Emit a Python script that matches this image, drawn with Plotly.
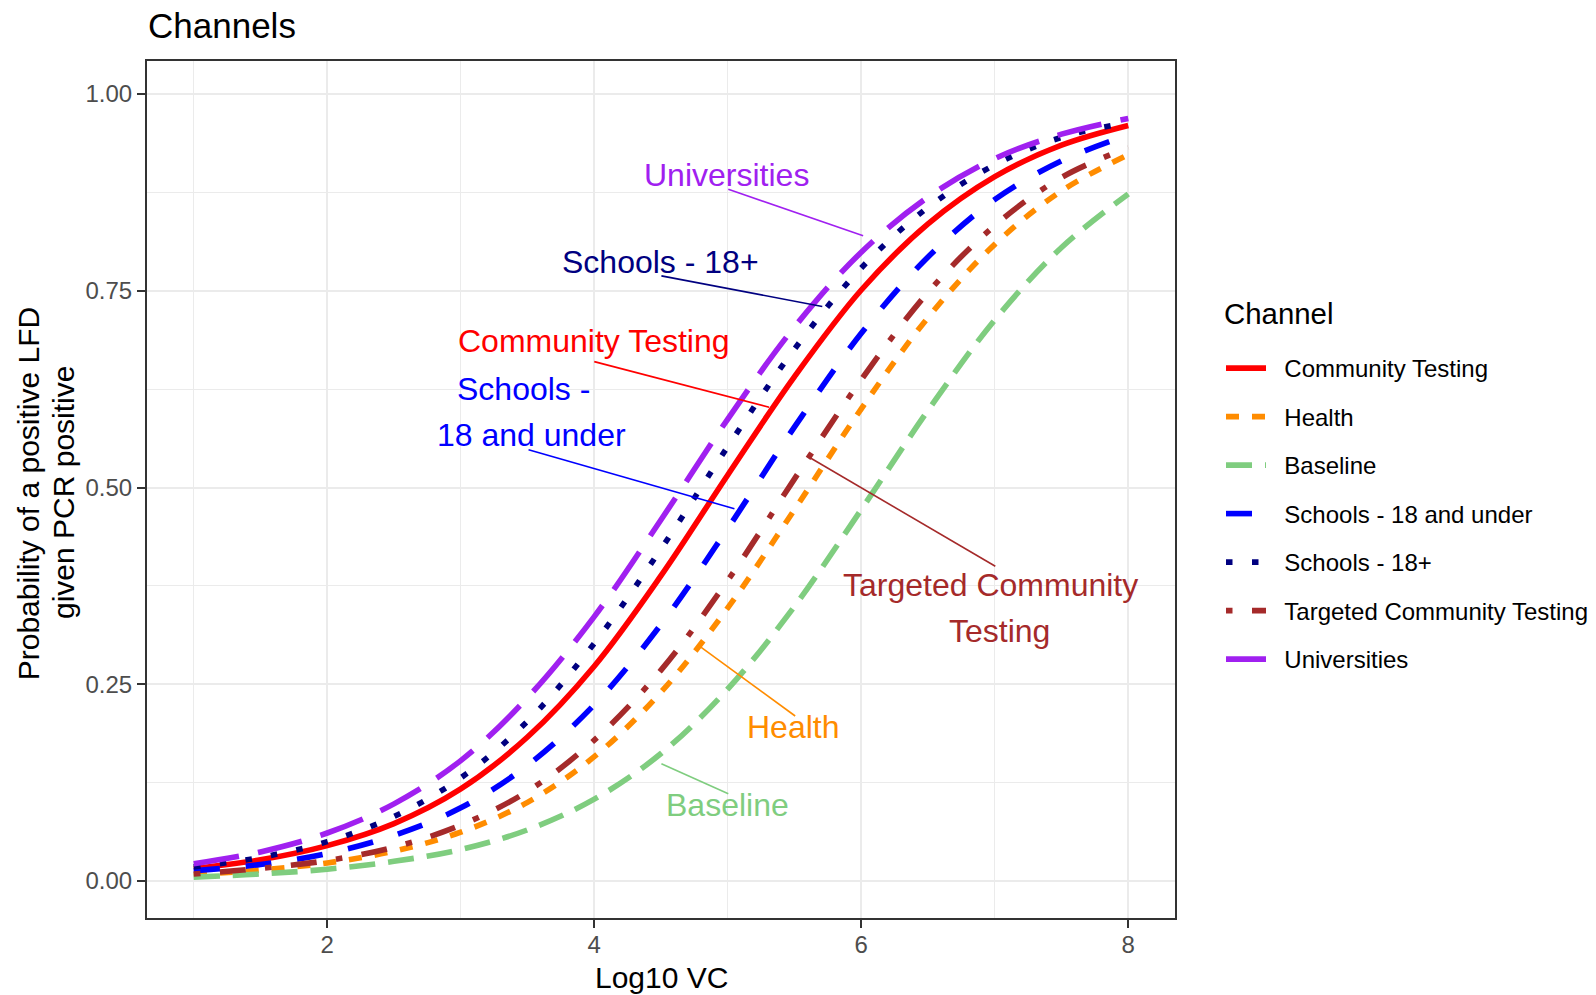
import plotly.graph_objects as go

# Log10 viral concentration grid
log10_vc = [1.0, 1.5, 2.0, 2.5, 3.0, 3.5, 4.0, 4.5, 5.0, 5.5, 6.0, 6.5, 7.0, 7.5, 8.0]

# Probability of a positive LFD given PCR positive, per channel
community_testing = [0.016, 0.027, 0.045, 0.073, 0.117, 0.183, 0.273, 0.388, 0.516, 0.641, 0.751, 0.835, 0.895, 0.935, 0.960]
health = [0.008, 0.014, 0.023, 0.038, 0.062, 0.100, 0.158, 0.240, 0.347, 0.472, 0.600, 0.716, 0.809, 0.877, 0.923]
baseline = [0.005, 0.009, 0.015, 0.025, 0.040, 0.065, 0.104, 0.162, 0.244, 0.349, 0.472, 0.598, 0.713, 0.805, 0.873]
schools_18_under = [0.013, 0.021, 0.035, 0.058, 0.093, 0.147, 0.224, 0.326, 0.448, 0.577, 0.696, 0.793, 0.866, 0.915, 0.948]
schools_18_plus = [0.018, 0.030, 0.050, 0.082, 0.131, 0.203, 0.302, 0.422, 0.552, 0.676, 0.779, 0.856, 0.910, 0.945, 0.964]
targeted_community = [0.009, 0.016, 0.026, 0.043, 0.071, 0.114, 0.179, 0.268, 0.382, 0.511, 0.637, 0.748, 0.833, 0.894, 0.932]
universities = [0.022, 0.037, 0.061, 0.098, 0.153, 0.233, 0.336, 0.459, 0.587, 0.704, 0.799, 0.869, 0.918, 0.949, 0.969]

channels = ["Community Testing", "Health", "Baseline", "Schools - 18 and under",
            "Schools - 18+", "Targeted Community Testing", "Universities"]
series = [community_testing, health, baseline, schools_18_under,
          schools_18_plus, targeted_community, universities]

x_ticks = [2, 4, 6, 8]
y_ticks = [0.0, 0.25, 0.5, 0.75, 1.0]
y_tick_labels = ["0.00", "0.25", "0.50", "0.75", "1.00"]

colors = ["#FF0000", "#FF8C00", "#7FCD7F", "#0000FF", "#000080", "#A52A2A", "#A020F0"]
u = 6.5  # dash unit in px
dashes = [
    "solid",
    f"{2*u}px,{2*u}px",
    f"{4*u}px,{2*u}px",
    f"{4*u}px,{4*u}px",
    f"{1*u}px,{3*u}px",
    f"{1*u}px,{3*u}px,{4*u}px,{3*u}px",
    f"{7*u}px,{3*u}px",
]

FONT = "Liberation Sans, Arial, sans-serif"
W, H = 1596, 995
L, R, T, B = 147, 421, 61, 77
PW, PH = W - L - R, H - T - B


def px_to_paper(px, py):
    return (px - L) / PW, (H - B - py) / PH


fig = go.Figure()
for i, (name, ys) in enumerate(zip(channels, series)):
    fig.add_trace(go.Scatter(
        x=log10_vc, y=ys, name="\u00a0\u00a0" + name, mode="lines",
        line=dict(color=colors[i], width=5.6, dash=dashes[i], shape="spline", smoothing=1.0),
        legendgroup=name,
    ))

# direct labels with leader segments
labels = [
    # text, label x, label y, color, segment (x0, y0, x1, y1)
    ("Universities", 4.993, 0.897, colors[6], (5.004, 0.879, 6.014, 0.820)),
    ("Schools - 18+", 4.498, 0.786, colors[4], (4.503, 0.769, 5.708, 0.730)),
    ("Community Testing", 3.995, 0.686, colors[0], (4.000, 0.660, 5.310, 0.602)),
    ("Schools -", 3.469, 0.625, colors[3], None),
    ("18 and under", 3.530, 0.567, colors[3], (3.508, 0.548, 5.050, 0.473)),
    ("Targeted Community", 6.966, 0.3756, colors[5], (7.004, 0.400, 5.594, 0.540)),
    ("Testing", 7.034, 0.3174, colors[5], None),
    ("Health", 5.496, 0.1958, colors[1], (5.505, 0.2097, 4.796, 0.2975)),
    ("Baseline", 5.000, 0.0961, colors[2], (5.004, 0.111, 4.503, 0.149)),
]
for text, lx, ly, col, seg in labels:
    fig.add_annotation(x=lx, y=ly, xref="x", yref="y", text=text, showarrow=False,
                       font=dict(family=FONT, size=32, color=col),
                       xanchor="center", yanchor="middle")
    if seg is not None:
        fig.add_shape(type="line", xref="x", yref="y", x0=seg[0], y0=seg[1], x1=seg[2], y1=seg[3],
                      line=dict(color=col, width=1.6), layer="above")

# y axis title (two lines)
for text, px in [("Probability of a positive LFD", 28.3), ("given PCR positive", 63.0)]:
    ax, ay = px_to_paper(px, 493)
    fig.add_annotation(x=ax, y=ay, xref="paper", yref="paper", text=text, showarrow=False,
                       textangle=-90, font=dict(family=FONT, size=30, color="black"),
                       xanchor="center", yanchor="middle")

# x axis title
ax, ay = px_to_paper(661.5, 978)
fig.add_annotation(x=ax, y=ay, xref="paper", yref="paper", text="Log10 VC", showarrow=False,
                   font=dict(family=FONT, size=30, color="black"), xanchor="center", yanchor="middle")

# legend title
ax, ay = px_to_paper(1222, 313.5)
fig.add_annotation(x=ax, y=ay, xref="paper", yref="paper", text="Channel", showarrow=False,
                   font=dict(family=FONT, size=29.4, color="black"), xanchor="left", yanchor="middle")

fig.update_layout(
    width=W, height=H,
    paper_bgcolor="white", plot_bgcolor="white",
    margin=dict(l=L, r=R, t=T, b=B),
    title=dict(text="Channels", x=148 / W, xanchor="left", xref="container",
               y=1 - 25.5 / H, yanchor="middle", yref="container",
               font=dict(family=FONT, size=35, color="black")),
    font=dict(family=FONT),
    showlegend=True,
    legend=dict(
        font=dict(family=FONT, size=24, color="black"),
        x=1221 / W, xref="container", xanchor="left",
        y=1 - 346 / H, yref="container", yanchor="top",
        tracegroupgap=14.3, itemwidth=40, bgcolor="rgba(0,0,0,0)",
    ),
    xaxis=dict(
        automargin=False,
        range=[0.65, 8.35], tickvals=x_ticks, ticktext=[str(t) for t in x_ticks],
        tickfont=dict(family=FONT, size=24, color="#4D4D4D"),
        ticks="outside", ticklen=8, tickwidth=2, tickcolor="#333333",
        ticklabelstandoff=-4,
        showgrid=True, gridcolor="#EBEBEB", gridwidth=1.8,
        minor=dict(tickvals=[1, 3, 5, 7], showgrid=True, gridcolor="#EBEBEB", gridwidth=1, ticks=""),
        showline=True, linecolor="#333333", linewidth=2, mirror=True,
        zeroline=False,
    ),
    yaxis=dict(
        automargin=False,
        range=[-0.047, 1.042], tickvals=y_ticks, ticktext=y_tick_labels,
        tickfont=dict(family=FONT, size=24, color="#4D4D4D"),
        ticks="outside", ticklen=8, tickwidth=2, tickcolor="#333333",
        showgrid=True, gridcolor="#EBEBEB", gridwidth=1.8,
        minor=dict(tickvals=[0.125, 0.375, 0.625, 0.875], showgrid=True, gridcolor="#EBEBEB", gridwidth=1, ticks=""),
        showline=True, linecolor="#333333", linewidth=2, mirror=True,
        zeroline=False,
    ),
)

fig.write_html("out.html")
